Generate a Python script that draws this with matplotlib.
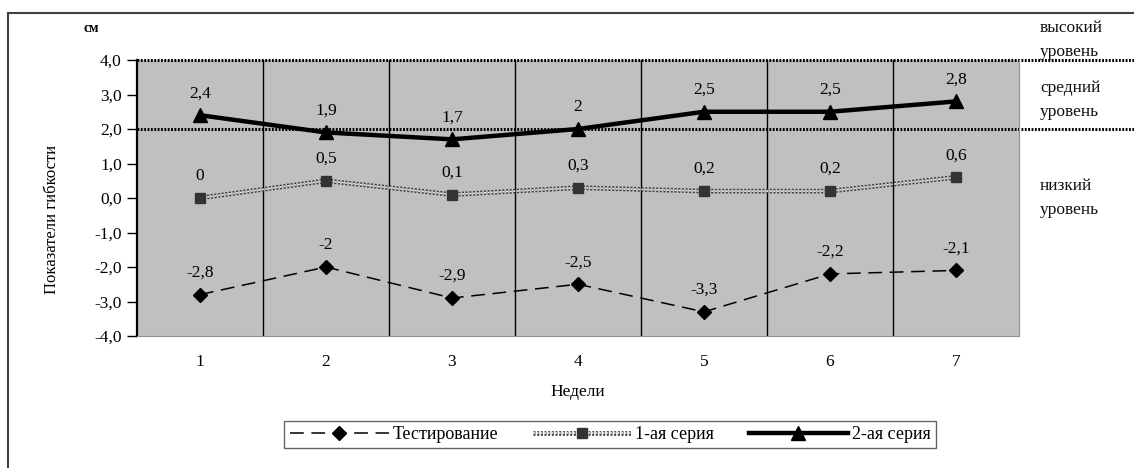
import matplotlib
matplotlib.use("Agg")
import matplotlib.pyplot as plt
import matplotlib.patheffects as pe
from matplotlib.lines import Line2D

plt.rcParams['font.family'] = ['Liberation Serif', 'DejaVu Serif']

# ---- data ----
weeks = [1, 2, 3, 4, 5, 6, 7]
testing = [-2.8, -2.0, -2.9, -2.5, -3.3, -2.2, -2.1]
series1 = [0.0, 0.5, 0.1, 0.3, 0.2, 0.2, 0.6]
series2 = [2.4, 1.9, 1.7, 2.0, 2.5, 2.5, 2.8]
names = ["Тестирование", "1-ая серия", "2-ая серия"]
yticks = [-4, -3, -2, -1, 0, 1, 2, 3, 4]
levels = [4.0, 2.0]


def fmt(v):
    # запятая как десятичный разделитель, целые без ",0"
    if float(v).is_integer():
        return str(int(v))
    return ("%.1f" % v).replace(".", ",")


W, H = 1134, 468
fig = plt.figure(figsize=(W / 100, H / 100), dpi=100)
ax = fig.add_axes([137 / W, 1 - 336 / H, 882 / W, 276 / H])
ax.set_facecolor("#c0c0c0")

# ---- lines ----
ax.plot(weeks, testing, color="black", lw=1.1, dashes=(9, 5),
        marker="D", ms=7.5, mfc="black", mec="black", zorder=4)

l1, = ax.plot(weeks, series1, color="#e8e8e8", lw=1.2, ls=(0, (1.2, 1.0)), zorder=3,
              path_effects=[pe.Stroke(linewidth=3.4, foreground="#3c3c3c"), pe.Normal()])
m1, = ax.plot(weeks, series1, ls="none", marker="s", ms=7.5, mfc="#333333",
              mec="#333333", zorder=4)

ax.plot(weeks, series2, color="black", lw=3.2, marker="^", ms=10,
        mfc="black", mec="black", zorder=5)

for ys in (testing, series1, series2):
    for x, y in zip(weeks, ys):
        ax.annotate(fmt(y), (x, y), textcoords="offset pixels", xytext=(0, 14),
                    ha="center", va="bottom", fontsize=12.5, zorder=6)

# ---- axes ----
ax.set_xlim(0.5, 7.5)
ax.set_ylim(-4, 4)
ax.set_yticks(yticks)
ax.set_yticklabels([("%.1f" % t).replace(".", ",") for t in yticks], fontsize=12.5)
ax.set_xticks(weeks)
ax.set_xticklabels([str(w) for w in weeks], fontsize=12.5)
ax.tick_params(axis="x", length=0, pad=13)
ax.tick_params(axis="y", length=7, width=1, direction="out", pad=4)

for b in [i + 0.5 for i in range(1, 7)]:
    ax.axvline(b, color="black", lw=1, zorder=1)

ax.spines["left"].set_linewidth(1.6)
ax.spines["left"].set_color("black")
ax.spines["bottom"].set_color("#909090")
ax.spines["right"].set_color("#909090")
ax.spines["top"].set_visible(False)

# граница уровней
for lv in levels:
    ax.plot([0, 1.13], [lv, lv], transform=ax.get_yaxis_transform(), color="black",
            lw=2.2, ls=(0, (0.6, 0.5)), clip_on=False, zorder=2)

ax.set_xlabel("Недели", fontsize=12.5, labelpad=10)
fig.text(52 / W, 1 - 219 / H, "Показатели гибкости", rotation=90,
         ha="center", va="center", fontsize=12)
fig.text(84 / W, 1 - 28 / H, "см", fontsize=10, fontweight="bold",
         ha="left", va="center")

# подписи уровней
right_texts = [("высокий", 28), ("уровень", 52), ("средний", 88), ("уровень", 112),
               ("низкий", 186), ("уровень", 210)]
for t, yp in right_texts:
    fig.text(1040 / W, 1 - yp / H, t, fontsize=12.5,
             ha="left", va="center", color="#111111")

# рамка
fig.add_artist(Line2D([8 / W, 1], [1 - 13 / H, 1 - 13 / H], color="#404040", lw=1.5))
fig.add_artist(Line2D([8 / W, 8 / W], [0, 1 - 13 / H], color="#404040", lw=1.5))

# ---- legend ----
h0 = Line2D([], [], color="black", lw=1.1, dashes=(9, 5), marker="D", ms=7.5,
            mfc="black", mec="black")
h2 = Line2D([], [], color="black", lw=3.2, marker="^", ms=10, mfc="black")
leg = fig.legend([h0, (l1, m1), h2], names, loc="center",
                 bbox_to_anchor=(610 / W, 1 - 434.5 / H), ncol=3, fontsize=13,
                 handlelength=5.5, handletextpad=0.2, columnspacing=1.9,
                 frameon=True, fancybox=False, borderpad=0.3, borderaxespad=0)
leg.get_frame().set_edgecolor("#404040")
leg.get_frame().set_linewidth(1)

fig.savefig("out.png", dpi=100)
